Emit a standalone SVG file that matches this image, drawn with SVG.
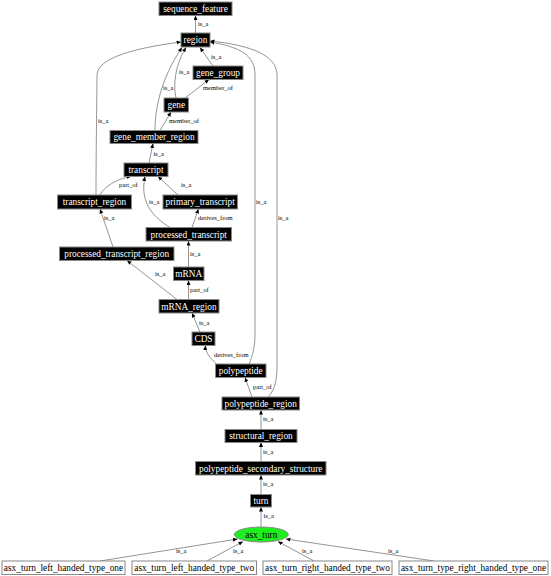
<svg xmlns="http://www.w3.org/2000/svg" width="551" height="576" viewBox="0 0 551 576">
<style>
.n rect{fill:#000;stroke:#888;stroke-width:1}
.n text{fill:#fff;font-family:"Liberation Serif",serif;font-size:9.3px;text-anchor:middle}
.w rect{fill:#fff;stroke:#888;stroke-width:1}
.w text{fill:#000;font-family:"Liberation Serif",serif;font-size:9.3px;text-anchor:middle}
.e path{fill:none;stroke:#888;stroke-width:0.9;marker-end:url(#ah)}
.e text{fill:#000;font-family:"Liberation Serif",serif;font-size:6.5px}
</style>
<defs>
<marker id="ah" markerUnits="userSpaceOnUse" markerWidth="6" markerHeight="6" refX="4.5" refY="2" orient="auto">
<path d="M0,0 L4.5,2 L0,4 Z" fill="#000"/>
</marker>
</defs>
<rect width="551" height="576" fill="#fff"/>
<g id="edges" class="e">
<path d="M195.5,33 L195.5,15.5"/><text x="198" y="26">is_a</text>
<path d="M213,66 L200,47.5"/><text x="211" y="58.5">is_a</text>
<path d="M176,98 C173,85 175,65 186,47.5"/><text x="179" y="74">is_a</text>
<path d="M155,130.5 C155,110 160,80 182,47.5"/><text x="163" y="90">is_a</text>
<path d="M185,98 L209,79.5"/><text x="203" y="90">member_of</text>
<path d="M160,130.5 L171,112"/><text x="169" y="122.5">member_of</text>
<path d="M149,163 L153,143.5"/><text x="153.5" y="155.5">is_a</text>
<path d="M96,195 C96,150 97,90 97,75 C97,55 150,46 181,42"/><text x="98" y="123">is_a</text>
<path d="M100,195 C105,185 120,178 131,176.5"/><text x="119" y="186.5">part_of</text>
<path d="M178,195 L158,176.5"/><text x="181" y="186.5">is_a</text>
<path d="M170,227.5 C150,215 140,200 145,176.5"/><text x="149" y="204">is_a</text>
<path d="M192,227.5 L198.5,209"/><text x="198" y="220">derives_from</text>
<path d="M113,247 L100,209"/><text x="104" y="220">is_a</text>
<path d="M188.5,267 L188.5,241"/><text x="190" y="256">is_a</text>
<path d="M177,299.5 L127,260.5"/><text x="155" y="275.5">is_a</text>
<path d="M188.5,299.5 L188.5,280.5"/><text x="190" y="292">part_of</text>
<path d="M200,332 L192,313"/><text x="199" y="324.5">is_a</text>
<path d="M217,364.5 C210,358 205,352 205.5,345.5"/><text x="214" y="357">derives_from</text>
<path d="M249,364 C253,355 255,345 255,335 L255,75 C255,55 240,47 210,42"/><text x="256" y="204">is_a</text>
<path d="M268,397 C275,390 277,380 277,365 L277,75 C277,55 250,45 210,41"/><text x="278" y="220">is_a</text>
<path d="M252,397 L245,377.5"/><text x="253" y="389">part_of</text>
<path d="M261,429.5 L261,410"/><text x="263" y="420.5">is_a</text>
<path d="M261,461.5 L261,442.5"/><text x="263" y="454">is_a</text>
<path d="M261,494.5 L261,475"/><text x="263" y="486">is_a</text>
<path d="M261,527 L261,507"/><text x="263.5" y="518">is_a</text>
<path d="M100,561 L237.5,539"/><text x="176" y="553">is_a</text>
<path d="M207,561 L243,541.5"/><text x="233" y="553">is_a</text>
<path d="M314,561 L278,541.5"/><text x="302" y="553">is_a</text>
<path d="M434,561 L286,539"/><text x="388" y="553">is_a</text>
</g>
<g id="sequence_feature" class="n"><rect x="159" y="2" width="73" height="13.5"/><text x="195.5" y="12">sequence_feature</text></g>
<g id="region" class="n"><rect x="181" y="33" width="29" height="14"/><text x="195.5" y="43.2">region</text></g>
<g id="gene_group" class="n"><rect x="193" y="66" width="50" height="13.5"/><text x="218" y="76">gene_group</text></g>
<g id="gene" class="n"><rect x="164" y="98" width="24.5" height="14"/><text x="176.3" y="108.2">gene</text></g>
<g id="gene_member_region" class="n"><rect x="110" y="130.5" width="88" height="13"/><text x="154" y="140.3">gene_member_region</text></g>
<g id="transcript" class="n"><rect x="124" y="163" width="44" height="13.5"/><text x="146" y="173">transcript</text></g>
<g id="transcript_region" class="n"><rect x="57.5" y="195" width="74" height="14"/><text x="94.5" y="205.2">transcript_region</text></g>
<g id="primary_transcript" class="n"><rect x="163" y="195" width="74.5" height="14"/><text x="200.2" y="205.2">primary_transcript</text></g>
<g id="processed_transcript" class="n"><rect x="146" y="227.5" width="85.5" height="13.5"/><text x="188.7" y="237.5">processed_transcript</text></g>
<g id="processed_transcript_region" class="n"><rect x="59.5" y="247" width="114.5" height="13.5"/><text x="116.7" y="257">processed_transcript_region</text></g>
<g id="mRNA" class="n"><rect x="173.5" y="267" width="30.5" height="13.5"/><text x="188.7" y="277">mRNA</text></g>
<g id="mRNA_region" class="n"><rect x="159" y="299.5" width="60" height="13.5"/><text x="189" y="309.5">mRNA_region</text></g>
<g id="CDS" class="n"><rect x="192" y="332" width="23" height="13.5"/><text x="203.5" y="342">CDS</text></g>
<g id="polypeptide" class="n"><rect x="215.5" y="364" width="50.5" height="13.5"/><text x="240.7" y="374">polypeptide</text></g>
<g id="polypeptide_region" class="n"><rect x="222" y="397" width="77.5" height="13"/><text x="260.7" y="406.8">polypeptide_region</text></g>
<g id="structural_region" class="n"><rect x="225" y="429.5" width="72" height="13"/><text x="261" y="439.3">structural_region</text></g>
<g id="polypeptide_secondary_structure" class="n"><rect x="195.5" y="461.5" width="130.5" height="13.5"/><text x="260.7" y="471.5">polypeptide_secondary_structure</text></g>
<g id="turn" class="n"><rect x="250.5" y="494.5" width="21" height="12.5"/><text x="261" y="503.9">turn</text></g>
<g id="asx_turn"><ellipse cx="261.3" cy="534.5" rx="27" ry="7.5" fill="#1eee1e" stroke="#888" stroke-width="1"/><text x="261.3" y="537.7" fill="#000" font-family="Liberation Serif, serif" font-size="9.3" text-anchor="middle">asx_turn</text></g>
<g id="asx_turn_left_handed_type_one" class="w"><rect x="2" y="561" width="123" height="13.5"/><text x="63.5" y="571">asx_turn_left_handed_type_one</text></g>
<g id="asx_turn_left_handed_type_two" class="w"><rect x="132" y="561" width="124.5" height="13.5"/><text x="194.2" y="571">asx_turn_left_handed_type_two</text></g>
<g id="asx_turn_right_handed_type_two" class="w"><rect x="263" y="561" width="129" height="13.5"/><text x="327.5" y="571">asx_turn_right_handed_type_two</text></g>
<g id="asx_turn_type_right_handed_type_one" class="w"><rect x="399" y="561" width="149" height="13.5"/><text x="473.5" y="571">asx_turn_type_right_handed_type_one</text></g>
</svg>
